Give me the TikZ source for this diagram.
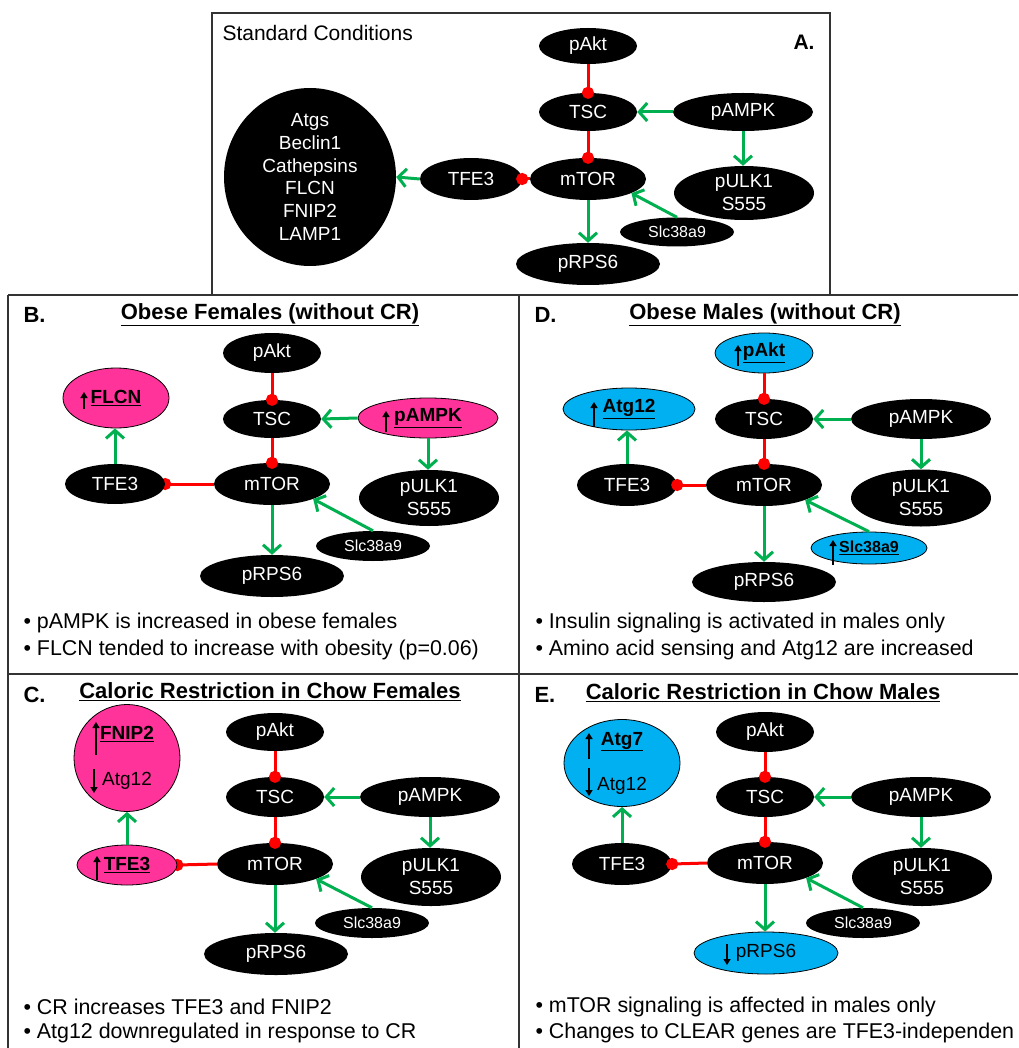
\documentclass[tikz,border=0pt]{standalone}
\usepackage{fontspec}
\setmainfont{Liberation Sans}
\usetikzlibrary{shapes.geometric,arrows.meta,calc,backgrounds}
\definecolor{grn}{HTML}{00B050}
\definecolor{pnk}{HTML}{FF3399}
\definecolor{blu}{HTML}{00B0F0}
\begin{document}
\begin{tikzpicture}[x=1pt,y=-1pt,
  nfont/.style={font=\fontsize{19}{23}\selectfont},
  blk/.style={ellipse, fill=black, text=white, inner sep=-4pt, nfont, align=center},
  pnode/.style={ellipse, fill=pnk, draw=black, line width=0.8pt, text=black, inner sep=-4pt, nfont, align=center},
  bnode/.style={ellipse, fill=blu, draw=black, line width=0.8pt, text=black, inner sep=-4pt, nfont, align=center},
  sz/.style 2 args={minimum width=#1pt, minimum height=#2pt},
  small/.style={font=\fontsize{16}{19}\selectfont},
  act/.style={draw=grn, line width=3pt, -{Straight Barb[length=8pt,width=18pt]}},
  inh/.style={draw=red, line width=3pt, -{Circle[length=12pt]}, shorten >=-6pt},
  upa/.style={draw=black, line width=1.8pt, -{Triangle[length=6pt,width=7pt]}},
  frame/.style={draw=black!80, line width=2pt},
  ttl/.style={font=\fontsize{22}{26}\selectfont\bfseries},
  bul/.style={anchor=west, font=\fontsize{21.4}{26}\selectfont},
]
\begin{scope}[on background layer]
\fill[white] (0,0) rectangle (1018,1048);
\end{scope}
\useasboundingbox (0,0) rectangle (1018,1048);

% ---------- frames ----------
\draw[frame] (212,13) rectangle (830,295);
\draw[frame] (8,295) -- (1018,295);
\draw[frame] (8,295) -- (8,1048);
\draw[frame] (519,295) -- (519,1048);
\draw[frame] (8,674) -- (1018,674);

% ---------- Panel A ----------
\node[anchor=west, font=\fontsize{21}{25}\selectfont] (atitle) at (219,33) {Standard Conditions};
\node[anchor=west, font=\fontsize{21}{25}\selectfont\bfseries] (alabel) at (790,42) {A.};
\node[blk, sz={98}{36}] (apakt) at (588,46) {pAkt};
\node[blk, sz={98}{38}] (atsc) at (588,112) {TSC};
\node[blk, sz={140}{38}] (aampk) at (743,112) {pAMPK};
\node[blk, sz={116}{42}] (amtor) at (588,179) {mTOR};
\node[blk, sz={102}{42}] (atfe) at (471,179) {TFE3};
\node[blk, sz={172}{178}, inner sep=-8pt, font=\fontsize{19}{22.8}\selectfont] (abig) at (310,177) {Atgs\\Beclin1\\Cathepsins\\FLCN\\FNIP2\\LAMP1};
\node[blk, sz={140}{54}, inner sep=-6pt] (aulk) at (744,193) {pULK1\\S555};
\node[blk, sz={114}{29}, small] (aslc) at (677,232) {Slc38a9};
\node[blk, sz={144}{42}] (arps) at (588,264) {pRPS6};
\draw[inh] (apakt.south) -- (atsc.north);
\draw[inh] (atsc.south) -- (amtor.north);
\draw[inh] (amtor.west) -- (atfe.east);
\draw[act] (atfe.west) -- (abig.east);
\draw[act] (aampk.west) -- (atsc.east);
\draw[act] (aampk.south) -- (aampk.south |- aulk.north);
\draw[act] (amtor.south) -- (amtor.south |- arps.north);
\draw[act] (aslc.north) -- (amtor.-18);

% ---------- Panel B ----------
\node[anchor=west, ttl] (blabel) at (20,315) {B.};
\node[ttl] (btitle) at (270,315) {\underline{Obese Females (without CR)}};
\node[blk, sz={98}{40}] (bpakt) at (272,353) {pAkt};
\node[blk, sz={98}{38}] (btsc) at (272,419) {TSC};
\node[pnode, sz={140}{40}] (bampk) at (428,418) {\underline{\textbf{pAMPK}}};
\node[pnode, sz={106}{60}] (bflcn) at (116,398) {\underline{\textbf{FLCN}}};
\node[blk, sz={100}{40}] (btfe) at (115,484) {TFE3};
\node[blk, sz={116}{42}] (bmtor) at (272,484) {mTOR};
\node[blk, sz={140}{56}, inner sep=-6pt] (bulk) at (429,498) {pULK1\\S555};
\node[blk, sz={114}{30}, small] (bslc) at (373,546) {Slc38a9};
\node[blk, sz={144}{42}] (brps) at (272,576) {pRPS6};
\draw[upa] (84,409) -- (84,392);
\draw[upa] (386,432) -- (386,411);
\draw[inh] (bpakt.south) -- (btsc.north);
\draw[inh] (btsc.south) -- (bmtor.north);
\begin{scope}[on background layer]
\draw[inh] (bmtor.west) -- (btfe.east);
\end{scope}
\draw[act] (btfe.north) -- (btfe.north |- bflcn.south);
\draw[act] (bampk.west) -- (btsc.east);
\draw[act] (bampk.south) -- (bampk.south |- bulk.north);
\draw[act] (bmtor.south) -- (bmtor.south |- brps.north);
\draw[act] (bslc.north) -- (bmtor.-20);
\node[bul] (bb1) at (20,623) {• pAMPK is increased in obese females};
\node[bul] (bb2) at (20,650) {• FLCN tended to increase with obesity (p=0.06)};

% ---------- Panel D ----------
\node[anchor=west, ttl] (dlabel) at (531,315) {D.};
\node[ttl] (dtitle) at (765,315) {\underline{Obese Males (without CR)}};
\node[bnode, sz={98}{40}] (dpakt) at (764,353) {\underline{\textbf{pAkt}}};
\node[blk, sz={98}{40}] (dtsc) at (764,419) {TSC};
\node[blk, sz={140}{40}] (dampk) at (921,419) {pAMPK};
\node[bnode, sz={132}{42}] (datg) at (629,409) {\underline{\textbf{Atg12}}};
\node[blk, sz={100}{42}] (dtfe) at (627,485) {TFE3};
\node[blk, sz={116}{42}] (dmtor) at (764,485) {mTOR};
\node[blk, sz={140}{57}, inner sep=-6pt] (dulk) at (921,498) {pULK1\\S555};
\node[bnode, sz={116}{32}, small] (dslc) at (869,548) {\underline{\textbf{Slc38a9}}};
\node[blk, sz={144}{40}] (drps) at (764,582) {pRPS6};
\draw[upa] (738,366) -- (738,345);
\draw[upa] (594,427) -- (594,402);
\draw[upa] (833,565) -- (833,540);
\draw[inh] (dpakt.south) -- (dtsc.north);
\draw[inh] (dtsc.south) -- (dmtor.north);
\draw[inh] (dmtor.west) -- (dtfe.east);
\draw[act] (dtfe.north) -- (dtfe.north |- datg.south);
\draw[act] (dampk.west) -- (dtsc.east);
\draw[act] (dampk.south) -- (dampk.south |- dulk.north);
\draw[act] (dmtor.south) -- (dmtor.south |- drps.north);
\draw[act] (dslc.north) -- (dmtor.-20);
\node[bul] (db1) at (532,623) {• Insulin signaling is activated in males only};
\node[bul] (db2) at (532,650) {• Amino acid sensing and Atg12 are increased};

% ---------- Panel C ----------
\node[anchor=west, ttl] (clabel) at (20,695) {C.};
\node[ttl] (ctitle) at (270,692) {\underline{Caloric Restriction in Chow Females}};
\node[blk, sz={98}{38}] (cpakt) at (275,732) {pAkt};
\node[blk, sz={98}{40}] (ctsc) at (275,797) {TSC};
\node[blk, sz={140}{40}] (campk) at (430,797) {pAMPK};
\node[pnode, sz={106}{107}] (cfnip) at (127,758) {\underline{\textbf{FNIP2}}\\[23pt]Atg12};
\node[pnode, sz={100}{40}] (ctfe) at (127,865) {\underline{\textbf{TFE3}}};
\node[blk, sz={116}{42}] (cmtor) at (275,864) {mTOR};
\node[blk, sz={140}{58}, inner sep=-6pt] (culk) at (431,877) {pULK1\\S555};
\node[blk, sz={114}{30}, small] (cslc) at (372,923) {Slc38a9};
\node[blk, sz={144}{42}] (crps) at (276,954) {pRPS6};
\draw[upa] (96,755) -- (96,722);
\draw[upa] (94,769) -- (94,793);
\draw[upa] (97,880) -- (97,856);
\draw[inh] (cpakt.south) -- (ctsc.north);
\draw[inh] (ctsc.south) -- (cmtor.north);
\begin{scope}[on background layer]
\draw[inh] (cmtor.west) -- (ctfe.east);
\end{scope}
\draw[act] (ctfe.north) -- (ctfe.north |- cfnip.south);
\draw[act] (campk.west) -- (ctsc.east);
\draw[act] (campk.south) -- (campk.south |- culk.north);
\draw[act] (cmtor.south) -- (cmtor.south |- crps.north);
\draw[act] (cslc.north) -- (cmtor.-20);
\node[bul] (cb1) at (20,1007) {• CR increases TFE3 and FNIP2};
\node[bul] (cb2) at (20,1033) {• Atg12 downregulated in response to CR};

% ---------- Panel E ----------
\node[anchor=west, ttl] (elabel) at (531,695) {E.};
\node[ttl] (etitle) at (763,693) {\underline{Caloric Restriction in Chow Males}};
\node[blk, sz={98}{40}] (epakt) at (765,732) {pAkt};
\node[blk, sz={98}{40}] (etsc) at (765,797) {TSC};
\node[blk, sz={140}{40}] (eampk) at (921,797) {pAMPK};
\node[bnode, sz={116}{87}, inner sep=-6pt] (eatg) at (622,763) {\underline{\textbf{Atg7}}\\[22pt]Atg12};
\node[blk, sz={100}{42}] (etfe) at (622,864) {TFE3};
\node[blk, sz={116}{42}] (emtor) at (765,863) {mTOR};
\node[blk, sz={140}{58}, inner sep=-6pt] (eulk) at (922,877) {pULK1\\S555};
\node[blk, sz={114}{30}, small] (eslc) at (863,923) {Slc38a9};
\node[bnode, sz={144}{42}] (erps) at (766,953) {pRPS6};
\draw[upa] (589,759) -- (589,733);
\draw[upa] (589,768) -- (589,796);
\draw[upa] (727,944) -- (727,965);
\draw[inh] (epakt.south) -- (etsc.north);
\draw[inh] (etsc.south) -- (emtor.north);
\draw[inh] (emtor.west) -- (etfe.east);
\draw[act] (etfe.north) -- (etfe.north |- eatg.south);
\draw[act] (eampk.west) -- (etsc.east);
\draw[act] (eampk.south) -- (eampk.south |- eulk.north);
\draw[act] (emtor.south) -- (emtor.south |- erps.north);
\draw[act] (eslc.north) -- (emtor.-20);
\node[bul] (eb1) at (532,1007) {• mTOR signaling is affected in males only};
\node[bul] (eb2) at (532,1033) {• Changes to CLEAR genes are TFE3-independen};
\end{tikzpicture}
\end{document}
